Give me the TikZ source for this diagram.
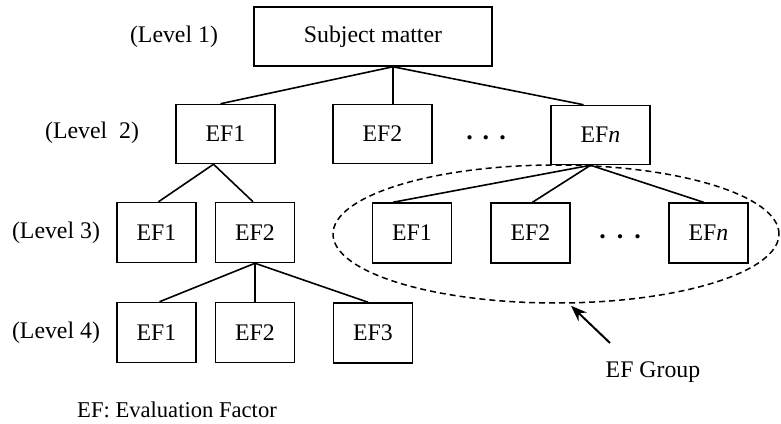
\documentclass[tikz,border=0pt]{standalone}
\usepackage{fontspec}
\setmainfont{Liberation Serif}
\newfontfamily\diagfont{Liberation Serif}
\usetikzlibrary{arrows.meta,shapes.geometric}
\begin{document}
\begin{tikzpicture}[x=0.5pt,y=-0.5pt,
  every node/.style={font=\diagfont\fontsize{11.9}{14}\selectfont, inner sep=0pt},
  sbox/.style={draw, line width=0.75pt, minimum width=39.5pt, minimum height=30pt},
  wbox/.style={draw, line width=0.75pt, minimum width=49.5pt, minimum height=29.5pt},
  link/.style={line width=0.8pt},
  dotrow/.style={font=\diagfont\fontsize{13}{14}\selectfont\bfseries}]
\useasboundingbox (0,0) rectangle (781,423);

% level captions
\node (lev1) at (174,37) {(Level 1)};
\node (lev2) at (92,133) {(Level\ \ 2)};
\node (lev3) at (56,233) {(Level 3)};
\node (lev4) at (56,333) {(Level 4)};

% level 1
\node[draw, line width=0.75pt, minimum width=119pt, minimum height=29.5pt] (sm) at (373,36.5) {Subject matter};

% level 2
\node[wbox] (a2) at (225.5,134) {EF1};
\node[wbox] (b2) at (382.5,134) {EF2};
\node[wbox] (n2) at (600.5,135) {EF\textit{n}};
\node[dotrow] (d2) at (486,138) {.\hspace{5pt}.\hspace{5pt}.};

% level 3, left branch
\node[sbox] (a3) at (156.5,232.5) {EF1};
\node[sbox] (b3) at (255,232.5) {EF2};

% level 3, right branch (EF group)
\node[sbox] (r1) at (412,233) {EF1};
\node[sbox] (r2) at (530.5,233) {EF2};
\node[sbox] (rn) at (708.5,233) {EF\textit{n}};
\node[dotrow] (d3) at (620,237) {.\hspace{5.5pt}.\hspace{5.5pt}.};

% level 4
\node[sbox] (a4) at (156.5,332.5) {EF1};
\node[sbox] (b4) at (255,332.5) {EF2};
\node[sbox] (c4) at (373,333) {EF3};

% branching points
\coordinate (p1) at ([xshift=10pt]sm.south);
\coordinate (p2) at ([xshift=-6pt]a2.south);
\coordinate (pn) at ([xshift=-5pt]n2.south);
\coordinate (p3) at (b3.south);

% connectors
\draw[link] (p1) -- ([xshift=-2.5pt]a2.north);
\draw[link] (p1) -- (p1 |- b2.north);
\draw[link] (p1) -- ([xshift=-8.5pt]n2.north);
\draw[link] (p2) -- ([xshift=1pt]a3.north);
\draw[link] (p2) -- ([xshift=-1pt]b3.north);
\draw[link] (pn) -- ([xshift=-9.5pt]r1.north);
\draw[link] (pn) -- ([xshift=1pt]r2.north);
\draw[link] (pn) -- ([xshift=-2.5pt]rn.north);
\draw[link] (p3) -- ([xshift=1.5pt]a4.north);
\draw[link] (p3) -- (b4.north);
\draw[link] (p3) -- ([xshift=-2.5pt]c4.north);

% EF group outline and its pointer
\node[draw, dash pattern=on 3pt off 2pt, line width=0.75pt, ellipse,
      minimum width=223pt, minimum height=69pt] (grp) at (556,234) {};
\node (glab) at (653,372) {EF Group};
\coordinate (gtail) at (610,343);
\draw[line width=1pt, -{Stealth[length=8pt,width=6pt]}] (gtail) -- ([xshift=7.5pt,yshift=-1pt]grp.south);

% legend
\node[font=\diagfont\fontsize{11.3}{14}\selectfont] (legend) at (177,410) {EF: Evaluation Factor};
\end{tikzpicture}
\end{document}
